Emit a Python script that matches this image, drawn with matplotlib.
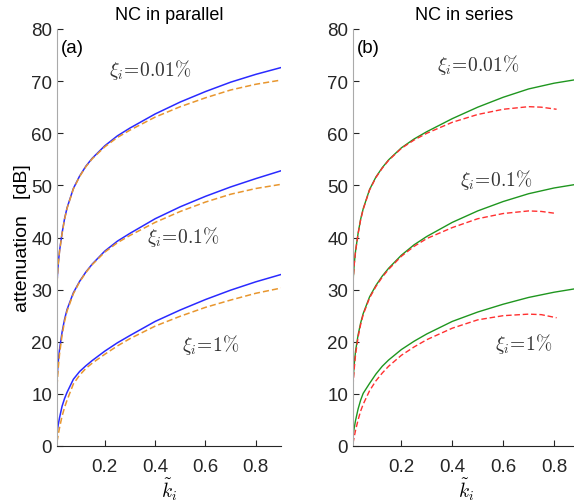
import matplotlib
matplotlib.use('Agg')
import matplotlib.pyplot as plt

plt.rcParams['font.family'] = ['Liberation Sans', 'DejaVu Sans']
plt.rcParams['mathtext.fontset'] = 'cm'

# normalised coupling values (x axis)
k = [0.01, 0.015, 0.02, 0.03, 0.04, 0.05, 0.075, 0.1, 0.125, 0.15, 0.2, 0.25, 0.3,
     0.4, 0.5, 0.6, 0.7, 0.8, 0.9]

# (a) NC in parallel, attenuation [dB]
par_exact_001 = [31.5, 35.0, 37.4, 40.8, 43.6, 45.7, 49.4, 51.8, 53.7, 55.2, 57.6, 59.5, 61.0,
                 63.7, 66.0, 68.0, 69.8, 71.3, 72.6]
par_approx_001 = [31.3, 34.9, 37.3, 40.7, 43.5, 45.6, 49.3, 51.7, 53.6, 55.1, 57.4, 59.2, 60.6,
                  63.1, 65.1, 66.8, 68.3, 69.4, 70.2]
par_exact_01 = [13.0, 16.2, 18.5, 21.8, 24.3, 26.2, 29.4, 31.6, 33.4, 34.9, 37.4, 39.3, 40.8,
                43.6, 45.9, 47.9, 49.7, 51.3, 52.8]
par_approx_01 = [11.5, 15.0, 17.6, 21.2, 23.9, 25.9, 29.2, 31.5, 33.3, 34.8, 37.2, 39.0, 40.4,
                 42.9, 45.0, 46.8, 48.3, 49.4, 50.2]
par_exact_1 = [2.6, 4.1, 5.4, 7.6, 9.1, 10.3, 12.8, 14.3, 15.4, 16.4, 18.2, 19.8, 21.2,
               23.9, 26.1, 28.1, 29.9, 31.5, 32.9]
par_approx_1 = [0.8, 2.2, 3.5, 5.7, 7.4, 8.8, 11.9, 13.6, 14.9, 15.9, 17.6, 19.2, 20.6,
                23.0, 24.9, 26.6, 28.0, 29.3, 30.3]

# (b) NC in series
ser_exact_001 = [31.5, 35.0, 37.4, 40.8, 43.5, 45.5, 49.2, 51.6, 53.4, 54.9, 57.2, 58.9, 60.3,
                 62.8, 65.0, 66.9, 68.5, 69.6, 70.4]
ser_exact_01 = [12.5, 15.8, 18.2, 21.3, 23.6, 25.4, 28.6, 30.8, 32.6, 34.1, 36.6, 38.6, 40.2,
                42.9, 45.1, 46.9, 48.4, 49.5, 50.3]
ser_exact_1 = [2.0, 3.5, 4.9, 7.1, 8.8, 10.1, 12.0, 13.8, 15.3, 16.5, 18.5, 20.1, 21.5,
               23.9, 25.7, 27.2, 28.5, 29.5, 30.3]

k_ser = [0.01, 0.015, 0.02, 0.03, 0.04, 0.05, 0.075, 0.1, 0.125, 0.15, 0.2, 0.25, 0.3,
         0.4, 0.5, 0.6, 0.7, 0.75, 0.81]
ser_approx_001 = [31.3, 34.9, 37.3, 40.7, 43.4, 45.4, 49.1, 51.5, 53.3, 54.8, 57.1, 58.7, 60.0,
                  62.1, 63.6, 64.6, 65.1, 65.0, 64.6]
ser_approx_01 = [11.5, 14.9, 17.5, 20.9, 23.3, 25.2, 28.4, 30.6, 32.4, 33.9, 36.4, 38.3, 39.8,
                 41.9, 43.6, 44.6, 45.1, 45.0, 44.6]
ser_approx_1 = [0.5, 1.8, 3.0, 5.0, 6.7, 8.0, 10.6, 12.5, 14.0, 15.3, 17.4, 19.0, 20.4,
                22.6, 24.2, 25.0, 25.3, 25.2, 24.6]

fig = plt.figure(figsize=(5.74, 5.02), dpi=100)
ax1 = fig.add_axes([57 / 574, 55 / 502, 224 / 574, 417 / 502])
ax2 = fig.add_axes([353 / 574, 55 / 502, 226.5 / 574, 417 / 502])

dash = (4, 2)
ax1.plot(k, par_exact_001, color='#2a2aff', lw=1.1)
ax1.plot(k, par_approx_001, color='#e8962e', lw=1.1, ls='--', dashes=dash)
ax1.plot(k, par_exact_01, color='#2a2aff', lw=1.1)
ax1.plot(k, par_approx_01, color='#e8962e', lw=1.1, ls='--', dashes=dash)
ax1.plot(k, par_exact_1, color='#2a2aff', lw=1.1)
ax1.plot(k, par_approx_1, color='#e8962e', lw=1.1, ls='--', dashes=dash)

ax2.plot(k, ser_exact_001, color='#1f961f', lw=1.0)
ax2.plot(k_ser, ser_approx_001, color='#ff3030', lw=1.0, ls='--', dashes=dash)
ax2.plot(k, ser_exact_01, color='#1f961f', lw=1.0)
ax2.plot(k_ser, ser_approx_01, color='#ff3030', lw=1.0, ls='--', dashes=dash)
ax2.plot(k, ser_exact_1, color='#1f961f', lw=1.0)
ax2.plot(k_ser, ser_approx_1, color='#ff3030', lw=1.0, ls='--', dashes=dash)

for ax in (ax1, ax2):
    ax.set_xlim(0.01, 0.9)
    ax.set_ylim(0, 80)
    ax.set_xticks([0.2, 0.4, 0.6, 0.8])
    ax.set_xticklabels(['0.2', '0.4', '0.6', '0.8'])
    ax.set_yticks(range(0, 81, 10))
    ax.spines['top'].set_visible(False)
    ax.spines['right'].set_visible(False)
    ax.spines['left'].set_color('#aaaaaa')
    ax.spines['bottom'].set_color('#262626')
    ax.tick_params(direction='in', length=4, labelsize=13.5, colors='#262626')
    ax.tick_params(axis='x', pad=9)
    ax.tick_params(axis='y', pad=3.5)
    ax.set_xlabel(r'$\tilde{k}_i$', fontsize=14, labelpad=0)

ax1.set_title('NC in parallel', fontsize=13, pad=7)
ax2.set_title('NC in series', fontsize=13, pad=7, x=0.49)
ax1.set_ylabel('attenuation   [dB]', fontsize=14, labelpad=0)

ax1.text(0.025, 76.5, '(a)', fontsize=13.5, va='center')
ax2.text(0.025, 76.5, '(b)', fontsize=13.5, va='center')

mt = dict(fontsize=14, ha='center', va='center', color='#333333')
ax1.text(0.38, 72.3, r'$\xi_i\!=\!0.01\%$', **mt)
ax1.text(0.51, 40.2, r'$\xi_i\!=\!0.1\%$', **mt)
ax1.text(0.62, 19.5, r'$\xi_i\!=\!1\%$', **mt)
ax2.text(0.50, 73.3, r'$\xi_i\!=\!0.01\%$', **mt)
ax2.text(0.575, 51.2, r'$\xi_i\!=\!0.1\%$', **mt)
ax2.text(0.68, 19.7, r'$\xi_i\!=\!1\%$', **mt)

fig.savefig('out.png', dpi=100)
